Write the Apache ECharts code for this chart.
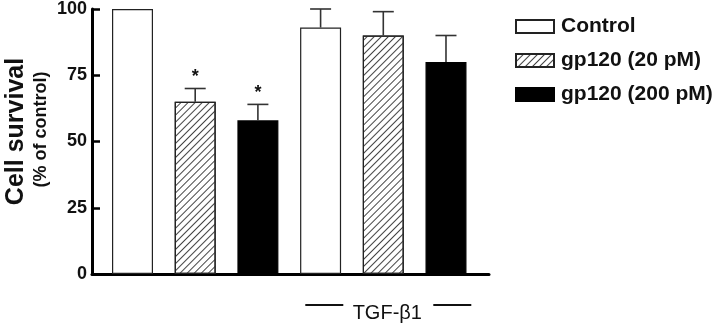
<!DOCTYPE html>
<html>
<head>
<meta charset="utf-8">
<script src="https://cdn.jsdelivr.net/npm/echarts@6/dist/echarts.min.js"></script>
<style>
  html, body { margin: 0; padding: 0; background: #fff; }
  #chart { width: 720px; height: 328px; }
</style>
</head>
<body>
<div id="chart"></div>
<script>
// groups along the x axis (second group is TGF-beta1 treated)
const groups = ['', 'TGF-β1'];
const seriesNames = ['Control', 'gp120 (20 pM)', 'gp120 (200 pM)'];
// values per series, one per group
const means = [[100, 93], [65, 90], [58, 80]];
const errors = [[0, 7], [5, 9], [6, 10]];
const stars = [[0, 0], [1, 0], [1, 0]];
const yTicks = [0, 25, 50, 75, 100];

const FONT = '"Liberation Sans", Arial, sans-serif';
const chart = echarts.init(document.getElementById('chart'));

const hatch = {
    symbol: 'rect',
    symbolSize: 1,
    dashArrayX: [1, 0],
    dashArrayY: [1, 4],
    rotation: -Math.PI / 4,
    color: '#444'
};
const barStyles = [
    { color: '#fff', borderColor: '#222', borderWidth: 1.2 },
    { color: '#fff', borderColor: '#222', borderWidth: 1.2, decal: hatch },
    { color: '#000', borderColor: '#000', borderWidth: 1.2 }
];

function xPos(g, s) {
    return g * 3 + s + 1;
}

const barSeries = seriesNames.map((name, s) => ({
    name: name,
    type: 'bar',
    barWidth: 41,
    barGap: '-100%',
    itemStyle: barStyles[s],
    data: groups.map((g, gi) => [xPos(gi, s), means[s][gi]])
}));

const errData = [];
seriesNames.forEach((name, s) => {
    groups.forEach((g, gi) => {
        errData.push([xPos(gi, s), means[s][gi], errors[s][gi], stars[s][gi]]);
    });
});

const errSeries = {
    name: 'err',
    type: 'custom',
    z: 5,
    renderItem: function (params, api) {
        const x = api.value(0), m = api.value(1), e = api.value(2);
        const base = api.coord([x, m]);
        const top = api.coord([x, m + e]);
        const children = [];
        if (e > 0) {
            children.push({
                type: 'line',
                shape: { x1: base[0], y1: base[1], x2: top[0], y2: top[1] },
                style: { stroke: '#333', lineWidth: 1.6 }
            });
            children.push({
                type: 'line',
                shape: { x1: top[0] - 10.5, y1: top[1], x2: top[0] + 10.5, y2: top[1] },
                style: { stroke: '#333', lineWidth: 1.6 }
            });
        }
        if (api.value(3)) {
            children.push({
                type: 'text',
                style: {
                    text: '*', x: top[0], y: top[1] - 2,
                    align: 'center', verticalAlign: 'bottom',
                    font: 'bold 18px ' + FONT, fill: '#111'
                }
            });
        }
        return { type: 'group', children: children };
    },
    encode: { x: 0, y: 1 },
    data: errData
};

const option = {
    animation: false,
    grid: { left: 92, right: 231, top: 9, bottom: 54 },
    legend: {
        data: seriesNames,
        orient: 'vertical',
        left: 515,
        top: 16,
        padding: 0,
        icon: 'rect',
        itemWidth: 38,
        itemHeight: 13,
        itemGap: 13,
        selectedMode: false,
        textStyle: { fontFamily: FONT, fontWeight: 'bold', fontSize: 21, color: '#111', lineHeight: 21, padding: [0, 0, 0, 2] }
    },
    xAxis: {
        type: 'value',
        min: 0.354,
        max: 6.686,
        axisLine: { show: true, lineStyle: { color: '#000', width: 3 } },
        axisTick: { show: false },
        axisLabel: { show: false },
        splitLine: { show: false }
    },
    yAxis: {
        type: 'value',
        min: yTicks[0],
        max: yTicks[yTicks.length - 1],
        interval: 25,
        axisLine: { show: true, lineStyle: { color: '#000', width: 3 } },
        axisTick: { show: true, inside: true, length: 8, lineStyle: { color: '#000', width: 2.5 } },
        axisLabel: { margin: 5, fontFamily: FONT, fontWeight: 'bold', fontSize: 18, color: '#111' },
        splitLine: { show: false }
    },
    series: barSeries.concat([errSeries])
};
chart.setOption(option);

// axis title and the TGF-beta1 group label
const c = chart.convertToPixel({ gridIndex: 0 }, [xPos(1, 1), 0]);
const yMid = chart.convertToPixel({ gridIndex: 0 }, [0, 50])[1];
chart.setOption({
    graphic: [
        {
            type: 'text', x: 16, y: yMid - 10, rotation: Math.PI / 2,
            style: { text: 'Cell survival', font: 'bold 25px ' + FONT, fill: '#111', align: 'center', verticalAlign: 'middle' }
        },
        {
            type: 'text', x: 41, y: yMid - 12, rotation: Math.PI / 2,
            style: { text: '(% of control)', font: 'bold 18px ' + FONT, fill: '#111', align: 'center', verticalAlign: 'middle' }
        },
        {
            type: 'text', x: c[0] + 4, y: c[1] + 39,
            style: { text: groups[1], font: '20px ' + FONT, fill: '#111', align: 'center', verticalAlign: 'middle' }
        },
        {
            type: 'line', shape: { x1: c[0] - 78, y1: c[1] + 31, x2: c[0] - 40, y2: c[1] + 31 },
            style: { stroke: '#111', lineWidth: 2 }
        },
        {
            type: 'line', shape: { x1: c[0] + 50, y1: c[1] + 31, x2: c[0] + 88, y2: c[1] + 31 },
            style: { stroke: '#111', lineWidth: 2 }
        }
    ]
});

window.addEventListener('resize', () => chart.resize());
</script>
</body>
</html>
